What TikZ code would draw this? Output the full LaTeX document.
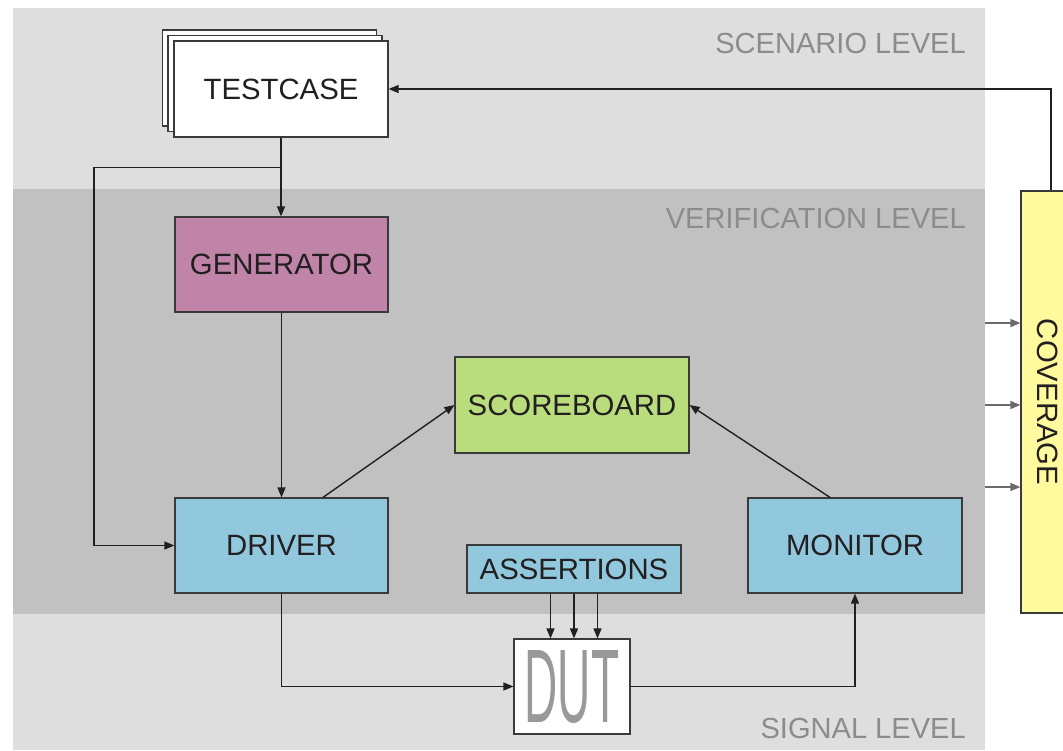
\documentclass[tikz,border=0pt]{standalone}
\usepackage{fontspec}
\setmainfont{Liberation Sans}
\usetikzlibrary{arrows.meta,calc}
\definecolor{bandlight}{HTML}{DEDEDE}
\definecolor{banddark}{HTML}{C1C1C1}
\definecolor{leveltxt}{HTML}{8C8C8C}
\definecolor{boxline}{HTML}{3A3A3A}
\definecolor{conn}{HTML}{231F20}
\definecolor{txt}{HTML}{231F20}
\definecolor{genfill}{HTML}{C084A9}
\definecolor{sbfill}{HTML}{B9DC7D}
\definecolor{bluefill}{HTML}{91C8DE}
\definecolor{covfill}{HTML}{FFFA9E}
\definecolor{covarrow}{HTML}{6A6A6A}
\definecolor{duttxt}{HTML}{999999}
\begin{document}
\begin{tikzpicture}[x=0.75pt,y=-0.75pt,
  box/.style={draw=boxline, line width=0.9pt, inner sep=0pt, text=txt,
    font=\fontsize{22}{24}\selectfont},
  stdbox/.style={box, minimum width=159.75pt, minimum height=71.25pt},
  pagebox/.style={box, fill=white, minimum width=160.5pt, minimum height=72pt},
  arr/.style={draw=conn, line width=1.05pt, -{Triangle[length=7.5pt,width=6pt]}},
  covarr/.style={draw=covarrow, line width=1.05pt, -{Triangle[length=7.5pt,width=6pt]}},
  leveltext/.style={anchor=east, inner sep=0pt, text=leveltxt,
    font=\fontsize{21.8}{24}\selectfont}]
\clip (0,0) rectangle (1063,750);
% bands
\fill[bandlight] (13,8) rectangle (985,189);
\fill[banddark] (13,189) rectangle (985,614);
\fill[bandlight] (13,614) rectangle (985,750);
% level labels
\node[leveltext] (lscen) at (966,43) {SCENARIO LEVEL};
\node[leveltext] (lver) at (966,218) {VERIFICATION LEVEL};
\node[leveltext] (lsig) at (966,728) {SIGNAL LEVEL};
% testcase stack
\node[pagebox] (p2) at (269.5,78) {};
\node[pagebox] (p1) at (275,83.5) {};
\node[pagebox] (tc) at (281,89) {TESTCASE};
% blocks
\node[stdbox, fill=genfill] (gen) at (281.5,264.5) {GENERATOR};
\node[box, fill=sbfill, minimum width=175.5pt, minimum height=72pt] (sb) at (572,405) {SCOREBOARD};
\node[stdbox, fill=bluefill] (drv) at (281.5,545.5) {DRIVER};
\node[stdbox, fill=bluefill, minimum width=160.5pt] (mon) at (855,545.5) {MONITOR};
\node[box, fill=bluefill, minimum width=160.5pt, minimum height=36pt] (as) at (574,569) {ASSERTIONS};
\node[box, fill=white, minimum width=87pt, minimum height=71.25pt,
  text=duttxt, font=\fontsize{78.5}{80}\selectfont] (dut) at (572,686.5)
  {\scalebox{0.44}[1]{DUT}};
\node[box, fill=covfill, minimum width=40.5pt, minimum height=316.5pt] (cov) at (1048,402) {};
\node[inner sep=0pt, rotate=-90, text=txt, font=\fontsize{22}{24}\selectfont] (covtxt) at (cov.center) {COVERAGE};
% connectors
\draw[arr] ($(cov.north)+(3,0)$) |- (tc.east);
\draw[arr] (tc.south) -- (tc.south |- gen.north);
\coordinate (br) at ($(tc.south)+(0,30)$);
\coordinate (bl) at ($(br)+(-187,0)$);
\draw[arr] (br) -- (bl) |- (drv.west);
\draw[arr] (gen.south) -- (drv.north);
\draw[arr] ($(drv.north)+(41.5,0)$) -- (sb.west);
\draw[arr] ($(mon.north)+(-25,0)$) -- (sb.east);
\draw[arr] (drv.south) |- (dut.west);
\draw[arr] (dut.east) -| (mon.south);
\foreach \dx [count=\i] in {-23.5,0,23.5}{
  \coordinate (as\i) at ($(as.south)+(\dx,0)$);
  \draw[arr] (as\i) -- (as\i |- dut.north);
}
\foreach \yy [count=\i] in {323,405,487}{
  \coordinate (cv\i) at (985,\yy);
  \draw[covarr] (cv\i) -- (cv\i -| cov.west);
}
\end{tikzpicture}
\end{document}
